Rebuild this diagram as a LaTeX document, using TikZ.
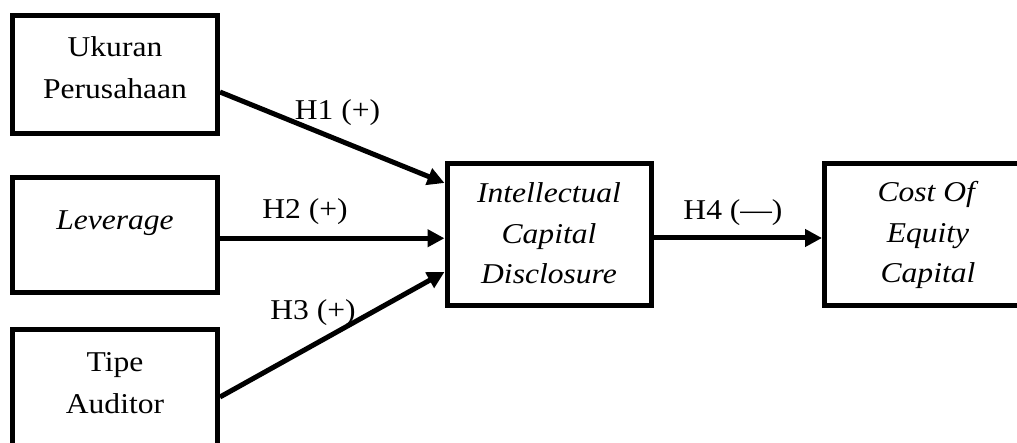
\documentclass[tikz,border=0pt]{standalone}
\usepackage{fontspec}
\setmainfont[FakeStretch=1.1]{Liberation Serif}
\usetikzlibrary{arrows.meta}
\begin{document}
\begin{tikzpicture}[x=1pt,y=-1pt,
  box/.style={draw,line width=5pt,rectangle,inner sep=0pt},
  txt/.style={inner sep=0pt,align=center,font=\fontsize{28.7}{42}\selectfont},
  txtb/.style={inner sep=0pt,align=center,font=\fontsize{28.7}{40.5}\selectfont},
  lbl/.style={inner sep=0pt,font=\fontsize{28.7}{34}\selectfont},
  arr/.style={line width=5pt,-{Triangle[length=17pt,width=17pt]}}]
\useasboundingbox (0,0) rectangle (1017,443);
\clip (0,0) rectangle (1017,443);
% boxes
\node[box,minimum width=205pt,minimum height=118.5pt] (b1) at (115,74.75) {};
\node[box,minimum width=205pt,minimum height=115.5pt] (b2) at (115,235.25) {};
\node[box,minimum width=205pt,minimum height=135pt] (b3) at (115,397) {};
\node[box,minimum width=204pt,minimum height=142pt] (icd) at (549,234.5) {};
\node[box,minimum width=205pt,minimum height=142pt] (coe) at (927,234.5) {};
% texts
\node[txt] (b1t) at (115,67.2) {Ukuran\\Perusahaan};
\node[txt] (b2t) at (115,223.6) {\textit{Leverage}};
\node[txt] (b3t) at (115,383.2) {Tipe\\Auditor};
\node[txtb] (icdt) at (549,233.5) {\textit{Intellectual}\\\textit{Capital}\\\textit{Disclosure}};
\node[txtb] (coet) at (928,235) {\textit{Cost Of}\\\textit{Equity}\\\textit{Capital}};
% connectors
\draw[arr] ([yshift=-17.25pt]b1.east) -- ([yshift=51.5pt]icd.west);
\draw[arr] ([yshift=-3pt]b2.east) -- ([yshift=-3pt]b2.east -| icd.west);
\draw[arr] (b3.east) -- ([yshift=-37.5pt]icd.west);
\draw[arr] ([yshift=-3.5pt]icd.east) -- ([yshift=-3.5pt]coe.west);
% labels
\node[lbl] (h1) at (337.5,113) {H1 (+)};
\node[lbl] (h2) at (305,211.4) {H2 (+)};
\node[lbl] (h3) at (313,313) {H3 (+)};
\node[lbl] (h4) at (733,213) {H4 (\textemdash)};
\end{tikzpicture}
\end{document}
